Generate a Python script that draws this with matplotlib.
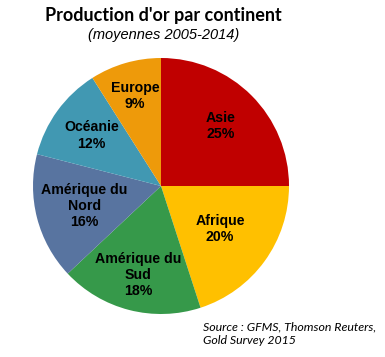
import matplotlib
matplotlib.use("Agg")
import matplotlib.pyplot as plt
import numpy as np

continents = ["Asie", "Afrique", "Amérique du\nSud", "Amérique du\nNord", "Océanie", "Europe"]
shares = [25, 20, 18, 16, 12, 9]
colors = ["#C00000", "#FFC000", "#36994A", "#5874A0", "#4198B2", "#EE9A0A"]
label_radii = [0.66, 0.57, 0.72, 0.62, 0.67, 0.73]

W, H = 385, 357
fig = plt.figure(figsize=(W / 100, H / 100), dpi=100)
cx, cy, r = 161, 186, 128
ax = fig.add_axes([(cx - r) / W, (H - cy - r) / H, 2 * r / W, 2 * r / H])

wedges, texts = ax.pie(shares, colors=colors, startangle=90, counterclock=False,
                       labels=[f"{c}\n{v}%" for c, v in zip(continents, shares)],
                       labeldistance=0.65, wedgeprops=dict(linewidth=0),
                       textprops=dict(fontsize=10.2, fontweight="bold", family="Liberation Sans",
                                      ha="center", va="center", multialignment="center",
                                      linespacing=1.2))
total = sum(shares)
cum = 0
for t, v, rr in zip(texts, shares, label_radii):
    mid = 90 - (cum + v / 2) / total * 360
    cum += v
    t.set_position((rr * np.cos(np.radians(mid)), rr * np.sin(np.radians(mid))))
    t.set_horizontalalignment("center")
ax.set_xlim(-1, 1)
ax.set_ylim(-1, 1)
ax.set_aspect("equal")
ax.axis("off")

fig.text(163 / W, 1 - 15 / H, "Production d'or par continent", ha="center", va="center",
         fontsize=13, fontweight="bold", family="Lato")
fig.text(164 / W, 1 - 35 / H, "(moyennes 2005-2014)", ha="center", va="center",
         fontsize=10.5, style="italic", family="Liberation Sans")
fig.text(203 / W, 1 - 334 / H, "Source : GFMS, Thomson Reuters,\nGold Survey 2015", ha="left", va="center",
         fontsize=8.9, style="italic", family="Lato", linespacing=1.25)

fig.savefig("out.png", dpi=100)
